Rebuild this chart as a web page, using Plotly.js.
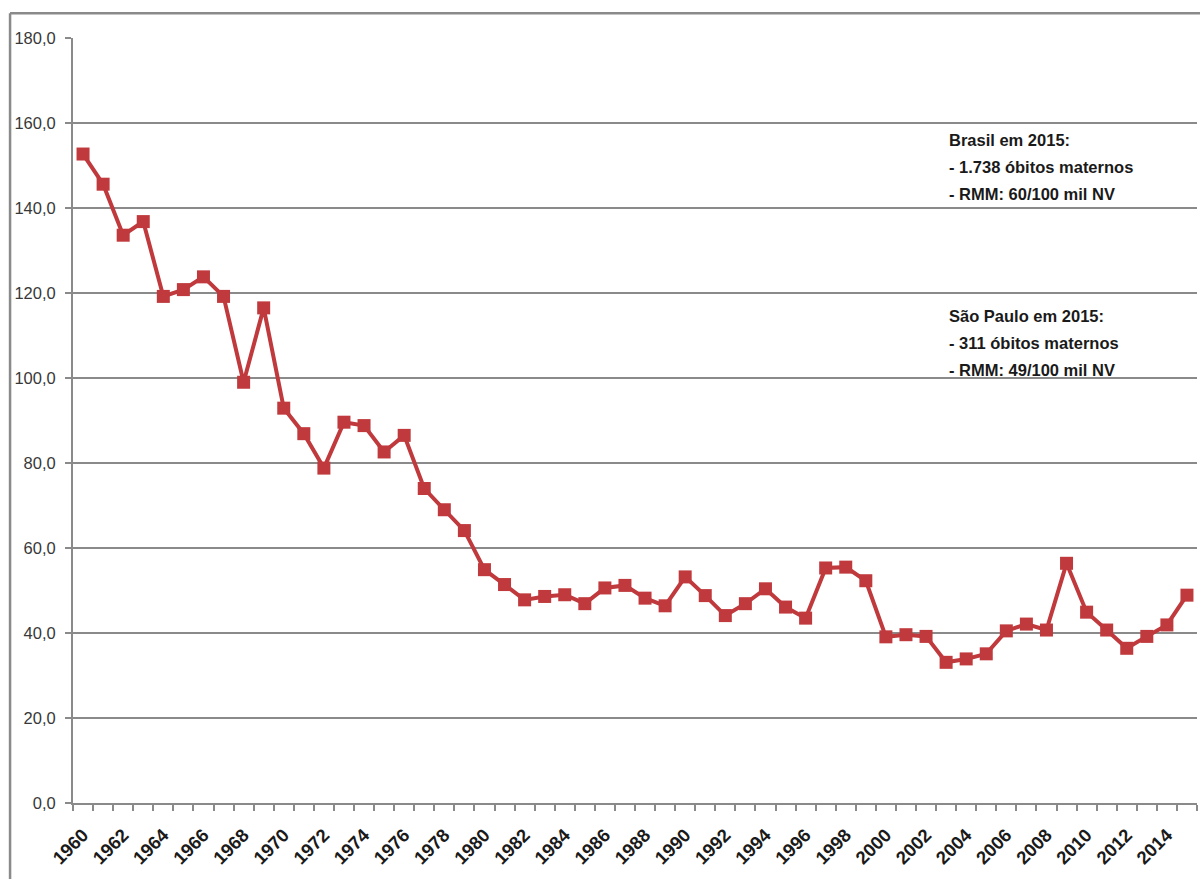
<!DOCTYPE html>
<html>
<head>
<meta charset="utf-8">
<script src="https://cdn.plot.ly/plotly-3.0.1.min.js"></script>
<style>
html,body{margin:0;padding:0;background:#fff;}
#chart{width:1200px;height:879px;}
</style>
</head>
<body>
<div id="chart"></div>
<script>
const years = [1960,1961,1962,1963,1964,1965,1966,1967,1968,1969,
  1970,1971,1972,1973,1974,1975,1976,1977,1978,1979,
  1980,1981,1982,1983,1984,1985,1986,1987,1988,1989,
  1990,1991,1992,1993,1994,1995,1996,1997,1998,1999,
  2000,2001,2002,2003,2004,2005,2006,2007,2008,2009,
  2010,2011,2012,2013,2014,2015];
const rmm = [152.7,145.6,133.6,136.8,119.2,120.8,123.8,119.2,99.0,116.5,
  92.9,86.9,78.8,89.6,88.8,82.6,86.5,74.0,69.0,64.1,
  54.9,51.4,47.8,48.6,49.0,46.9,50.6,51.2,48.2,46.4,
  53.2,48.8,44.1,46.9,50.4,46.1,43.5,55.3,55.5,52.3,
  39.1,39.6,39.2,33.1,33.9,35.1,40.5,42.1,40.7,56.4,
  44.9,40.7,36.4,39.2,41.9,48.9];
const tickYears = [1960,1962,1964,1966,1968,1970,1972,1974,1976,1978,1980,1982,1984,1986,
  1988,1990,1992,1994,1996,1998,2000,2002,2004,2006,2008,2010,2012,2014];
const tickLabels = tickYears.map(String);
const yTicks = [0,20,40,60,80,100,120,140,160,180];
const noteLines = [
  "Brasil em 2015:", "- 1.738 óbitos maternos", "- RMM: 60/100 mil NV",
  "São Paulo em 2015:", "- 311 óbitos maternos", "- RMM: 49/100 mil NV"
];
const noteY = [156.1, 149.7, 143.2, 114.7, 108.3, 101.9];
const noteX = 2003.05;

const gray = '#8a8a8a';
const red = '#C0393C';
const fam = 'Liberation Sans, Arial, sans-serif';

const trace = {
  x: years, y: rmm, type: 'scatter', mode: 'lines+markers',
  line: {color: red, width: 4},
  marker: {symbol: 'square', size: 13, color: red},
  hoverinfo: 'x+y'
};

const layout = {
  width: 1200, height: 879,
  margin: {l: 73, r: 3, t: 38, b: 76},
  paper_bgcolor: '#fff', plot_bgcolor: '#fff',
  separators: ',.',
  showlegend: false,
  font: {family: fam},
  xaxis: {
    range: [1959.5, 2015.5],
    tickmode: 'array', tickvals: tickYears, ticktext: tickLabels,
    tickangle: -45, ticks: '', ticklen: 0,
    ticklabelstandoff: 12,
    tickfont: {size: 18.5, color: '#1a1a1a', family: fam, weight: 'bold'},
    showgrid: false, zeroline: false,
    showline: true, linecolor: gray, linewidth: 2,
    minor: {tickmode: 'linear', tick0: 1959.5, dtick: 1, ticks: 'outside', ticklen: 6, tickwidth: 2, tickcolor: gray, showgrid: false},
    fixedrange: true
  },
  yaxis: {
    range: [0, 180],
    tickmode: 'array', tickvals: yTicks,
    tickformat: '.1f',
    ticks: 'outside', ticklen: 6, tickwidth: 2, tickcolor: gray,
    ticklabelstandoff: 6,
    tickfont: {size: 16.5, color: '#383838', family: fam},
    showgrid: true, gridcolor: gray, gridwidth: 2,
    zeroline: false,
    showline: true, linecolor: gray, linewidth: 2,
    fixedrange: true
  },
  shapes: [
    {type: 'line', xref: 'paper', yref: 'paper', x0: -0.056, x1: 1.01, y0: 1.0325, y1: 1.0325, line: {color: gray, width: 2.5}},
    {type: 'line', xref: 'paper', yref: 'paper', x0: -0.056, x1: -0.056, y0: 1.0325, y1: -0.2, line: {color: gray, width: 2.5}}
  ],
  annotations: noteLines.map((t, i) => ({
    text: t, xref: 'x', yref: 'y', x: noteX, y: noteY[i],
    xanchor: 'left', yanchor: 'middle', align: 'left', showarrow: false,
    font: {size: 16.5, color: '#1a1a1a', family: fam, weight: 'bold'}
  }))
};

Plotly.newPlot('chart', [trace], layout, {displayModeBar: false, staticPlot: true});
</script>
</body>
</html>
